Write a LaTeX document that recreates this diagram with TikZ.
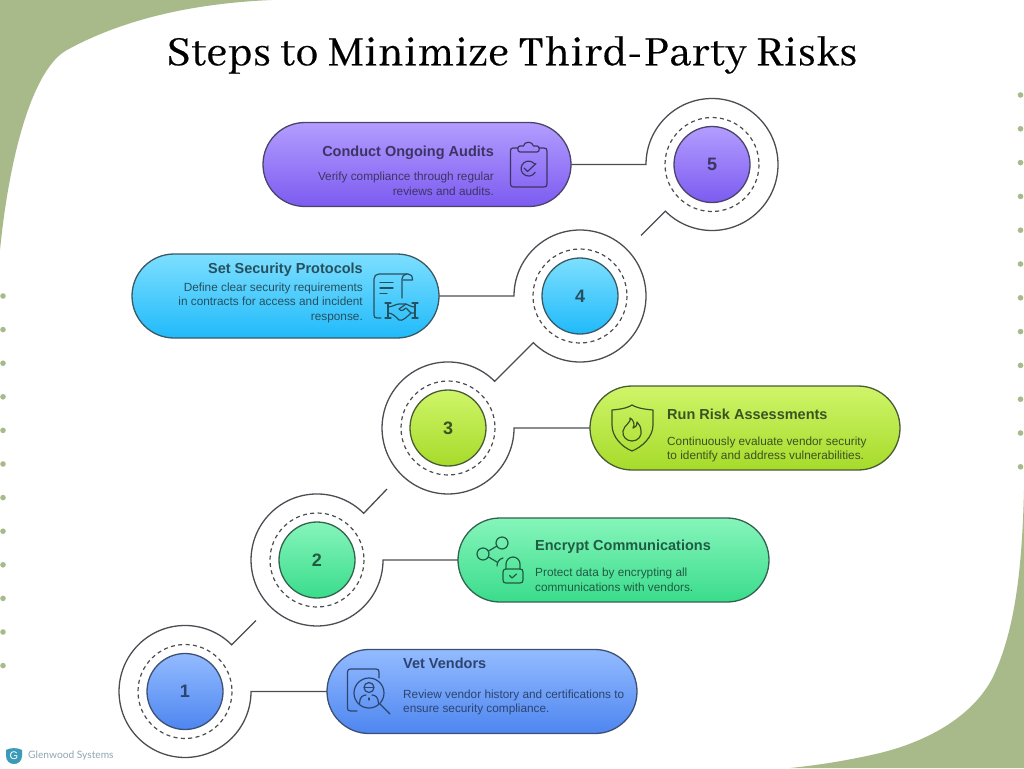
\documentclass[tikz,border=0pt]{standalone}
\usepackage{fontspec}
\usetikzlibrary{shapes.misc,calc}
\setmainfont{Liberation Sans}
\newfontfamily\titlefont[LetterSpace=1.5,FakeBold=0.35]{Abhaya Libre}
\newfontfamily\logofont{Lato}
\definecolor{sage}{HTML}{A9BA8A}
\definecolor{wire}{HTML}{4A4D52}
\definecolor{ink5}{HTML}{3E3464}
\definecolor{ink4}{HTML}{27505F}
\definecolor{ink3}{HTML}{3B5222}
\definecolor{ink2}{HTML}{1F5C43}
\definecolor{ink1}{HTML}{2C4470}
\definecolor{top5}{HTML}{B39DFF}\definecolor{bot5}{HTML}{7C5BF0}
\definecolor{top4}{HTML}{7DDFFF}\definecolor{bot4}{HTML}{20BAFA}
\definecolor{top3}{HTML}{CFF569}\definecolor{bot3}{HTML}{A6DB2A}
\definecolor{top2}{HTML}{86F5BA}\definecolor{bot2}{HTML}{3ADC8C}
\definecolor{top1}{HTML}{93BBFF}\definecolor{bot1}{HTML}{4E86F0}
\definecolor{logoblue}{HTML}{3A9AB8}
\definecolor{logogray}{HTML}{8FA6B2}
\tikzset{
  x=1pt,y=-1pt,
  pillbox/.style={rounded rectangle,minimum height=84pt,inner sep=0pt,outer sep=0pt,line width=1.3pt},
  ballnode/.style={circle,minimum size=76pt,inner sep=0pt,outer sep=0pt,line width=1.3pt,font=\fontsize{18}{20}\selectfont\bfseries},
  headtext/.style={inner sep=0pt,font=\fontsize{14.5}{16}\selectfont\bfseries},
  bodytext/.style={inner sep=0pt,font=\fontsize{11.8}{14.5}\selectfont},
  wireline/.style={draw=wire,line width=1.3pt},
  ringline/.style={draw=wire,line width=1.2pt,dash pattern=on 4pt off 3.4pt},
  iconline/.style={line width=1.2pt,line cap=round,line join=round},
  fill5/.style={top color=top5,bottom color=bot5,draw=ink5!80!gray},
  fill4/.style={top color=top4,bottom color=bot4,draw=ink4!80!gray},
  fill3/.style={top color=top3,bottom color=bot3,draw=ink3!80!gray},
  fill2/.style={top color=top2,bottom color=bot2,draw=ink2!80!gray},
  fill1/.style={top color=top1,bottom color=bot1,draw=ink1!80!gray},
}
\begin{document}
\begin{tikzpicture}
\useasboundingbox (0,0) rectangle (1024,768);
\fill[white] (0,0) rectangle (1024,768);
% background corners
\fill[sage] (0,0) -- (272,0) .. controls (200,3) and (127,17) .. (67,50) .. controls (34,68) and (10,150) .. (0,250) -- cycle;
\fill[sage] (1024,490) .. controls (1022,570) and (1015,630) .. (993,677) .. controls (972,718) and (925,742) .. (880,753) .. controls (850,760) and (820,765) .. (790,768) -- (1024,768) -- cycle;
% dots
\foreach \yy in {296,329.6,363.2,396.8,430.4,464,497.6,531.2,564.8,598.4,632,665.6} \fill[sage] (3,\yy) circle[radius=2.8];
\foreach \yy in {95,128.8,162.6,196.4,230.2,264,297.8,331.6,365.4,399.2,433,466.8} \fill[sage] (1020.5,\yy) circle[radius=2.8];
% title
\node[inner sep=0pt,font=\titlefont\fontsize{45.7}{48}\selectfont] (title) at (512,55) {Steps to Minimize Third-Party Risks};
% pills
\node[pillbox,fill5,minimum width=308pt] (pill5) at (417,164.5) {};
\node[pillbox,fill4,minimum width=307pt] (pill4) at (285.5,296) {};
\node[pillbox,fill3,minimum width=310pt] (pill3) at (745,428) {};
\node[pillbox,fill2,minimum width=311pt] (pill2) at (613.5,560) {};
\node[pillbox,fill1,minimum width=310pt] (pill1) at (482,691.5) {};
% circles
\node[ballnode,fill5,text=ink5] (ball5) at (712,164.5) {5};
\node[ballnode,fill4,text=ink4] (ball4) at (580,296) {4};
\node[ballnode,fill3,text=ink3] (ball3) at (448,428) {3};
\node[ballnode,fill2,text=ink2] (ball2) at (317,560) {2};
\node[ballnode,fill1,text=ink1] (ball1) at (185,691.5) {1};
\foreach \b in {ball1,ball2,ball3,ball4,ball5} \draw[ringline] (\b) circle[radius=47];
% outer rings and connectors
\coordinate (free5) at ($(ball5)+(-71,71)$);
\coordinate (free2) at ($(ball2)+(70,-71)$);
\coordinate (free1) at ($(ball1)+(71,-71)$);
\draw[wireline] (pill5.east) -- ($(ball5)+(-66,0)$) arc[start angle=180,end angle=495,radius=66] -- (free5);
\draw[wireline] (pill4.east) -- ($(ball4)+(-66,0)$) arc[start angle=180,end angle=495,radius=66] -- ($(ball3)+(46.7,-46.7)$) arc[start angle=-45,end angle=-360,radius=66] -- (pill3.west);
\draw[wireline] (free2) -- ($(ball2)+(46.7,-46.7)$) arc[start angle=-45,end angle=-360,radius=66] -- (pill2.west);
\draw[wireline] (free1) -- ($(ball1)+(46.7,-46.7)$) arc[start angle=-45,end angle=-360,radius=66] -- (pill1.west);
% texts
\node[headtext,text=ink5,anchor=east] (h5) at (494,153) {Conduct Ongoing Audits};
\node[bodytext,text=ink5,anchor=north east,align=right] (b5) at (494,172) {Verify compliance through regular\\reviews and audits.};
\node[headtext,text=ink4,anchor=east] (h4) at (363,270) {Set Security Protocols};
\node[bodytext,text=ink4,anchor=north east,align=right] (b4) at (363,282.5) {Define clear security requirements\\in contracts for access and incident\\response.};
\node[headtext,text=ink3,anchor=west] (h3) at (667,414) {Run Risk Assessments};
\node[bodytext,text=ink3,anchor=north west,align=left] (b3) at (667,436.5) {Continuously evaluate vendor security\\to identify and address vulnerabilities.};
\node[headtext,text=ink2,anchor=west] (h2) at (535,547) {Encrypt Communications};
\node[bodytext,text=ink2,anchor=north west,align=left] (b2) at (535,568) {Protect data by encrypting all\\communications with vendors.};
\node[headtext,text=ink1,anchor=west] (h1) at (403,663.5) {Vet Vendors};
\node[bodytext,text=ink1,anchor=north west,align=left] (b1) at (403,689.5) {Review vendor history and certifications to\\ensure security compliance.};
% icon 5: clipboard
\begin{scope}[iconline,draw=ink5]
\draw (518,148) -- (513,148) .. controls (511,148) and (510.5,149) .. (510.5,151) -- (510.5,184) .. controls (510.5,186) and (511.5,187) .. (513.5,187) -- (544,187) .. controls (546,187) and (547,186) .. (547,184) -- (547,151) .. controls (547,149) and (546,148) .. (544,148) -- (539,148);
\draw (520,152) .. controls (517,152) and (517,146) .. (520,146) -- (523.5,146) .. controls (524,141) and (532.5,141) .. (533.5,146) -- (537,146) .. controls (540,146) and (540,152) .. (537,152) -- cycle;
\draw (534.5,164) arc[start angle=-38,end angle=-330,radius=7.5];
\draw (524,168) -- (527.5,171.5) -- (536,163.5);
\end{scope}
% icon 4: contract and handshake
\begin{scope}[iconline,draw=ink4]
\draw (381,318) -- (377,318) .. controls (375,318) and (374,317) .. (374,315) -- (374,279) .. controls (374,276) and (376,274) .. (379,274) -- (408,274) .. controls (411,274) and (412.5,276) .. (412.5,280) -- (403,280);
\draw (402,298) -- (402,279) .. controls (402,276) and (404,274) .. (407,274);
\draw (380,282.5) -- (393,282.5) (380,288) -- (393,288) (380,293.5) -- (387,293.5);
\draw (385,303) -- (391,303) (388,303) -- (388,318) (385,318) -- (391,318);
\draw (412,303) -- (418,303) (415,303) -- (415,318) (412,318) -- (418,318);
\draw (388,307) .. controls (392,307) and (396,304) .. (399,304) -- (406,304) .. controls (409,305) and (411,307) .. (415,307);
\draw (388,313) .. controls (392,313) and (395,316) .. (399,320) .. controls (402,322) and (408,316) .. (411,313) -- (415,313);
\draw (406,304) -- (399,309) .. controls (401,312) and (404,310) .. (406,308) -- (411,313);
\end{scope}
% icon 3: shield with flame
\begin{scope}[iconline,draw=ink3]
\draw (612,410) .. controls (624,409) and (629,407) .. (632,405) .. controls (635,407) and (641,409) .. (653,410) -- (653,425) .. controls (653,437) and (642,447) .. (632,451) .. controls (622,447) and (612,437) .. (612,425) -- cycle;
\draw (630,418) .. controls (632,422) and (624,425) .. (623,431) .. controls (622,437) and (627,441) .. (632,441) .. controls (638,441) and (642,436) .. (641,431) .. controls (641,427) and (639,424) .. (637,422) .. controls (637,426) and (635,428) .. (633,428) .. controls (635,425) and (634,420) .. (630,418) -- cycle;
\end{scope}
% icon 2: network and lock
\begin{scope}[iconline,draw=ink2]
\draw (502,543) circle[radius=6];
\draw (483,554) circle[radius=6];
\draw (488.5,551) -- (497,546) (488.5,557) -- (497,562);
\draw (503,558) .. controls (499,559) and (497,562) .. (497,566);
\draw (503,572) .. controls (503,570) and (504,569) .. (506,569) -- (520,569) .. controls (522,569) and (523,570) .. (523,572) -- (523,580) .. controls (523,582) and (522,583) .. (520,583) -- (506,583) .. controls (504,583) and (503,582) .. (503,580) -- cycle;
\draw (506,569) -- (506,564) arc[start angle=180,end angle=360,radius=7] -- (520,569);
\draw (509.5,575.5) -- (512,578) -- (516.5,574);
\end{scope}
% icon 1: profile under magnifier
\begin{scope}[iconline,draw=ink1]
\draw (357,711) -- (350.5,711) .. controls (348.5,711) and (347.5,710) .. (347.5,708) -- (347.5,672) .. controls (347.5,670) and (348.5,669) .. (350.5,669) -- (376,669) .. controls (378,669) and (379,670) .. (379,672) -- (379,678);
\draw (369,693) circle[radius=15];
\draw (380,704) -- (390,714);
\draw (369,687.5) circle[radius=5];
\draw (365.5,687.5) -- (372.5,687.5);
\draw (359.5,703.5) .. controls (359.5,697) and (363,695) .. (366,695) (372,695) .. controls (375,695) and (378.5,697) .. (378.5,703.5);
\draw (369,698) -- (369,700);
\end{scope}
% logo
\fill[logoblue] (6,750) .. controls (10,747.5) and (18,747.5) .. (22,750) -- (22,756) .. controls (22,761) and (18,764) .. (14,764) .. controls (10,764) and (6,761) .. (6,756) -- cycle;
\node[inner sep=0pt,text=white,font=\fontsize{11}{12}\selectfont] (logomark) at (14,756) {G};
\node[inner sep=0pt,anchor=west,text=logogray,font=\logofont\fontsize{10.2}{12}\selectfont] (logotext) at (28,756) {Glenwood Systems};
\end{tikzpicture}
\end{document}
